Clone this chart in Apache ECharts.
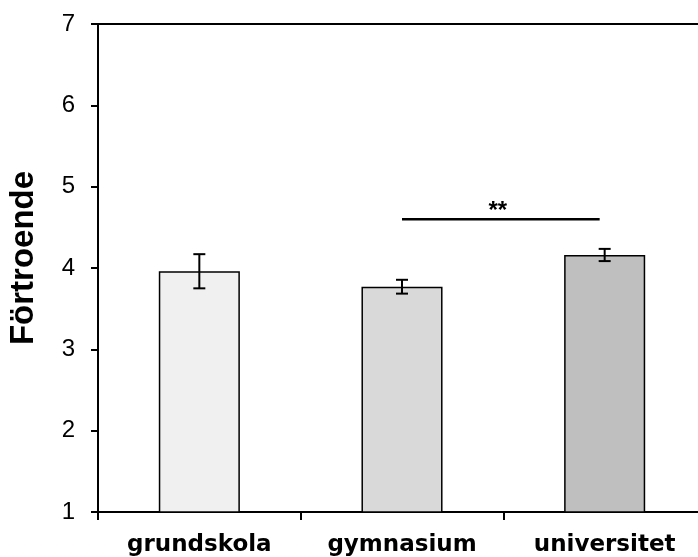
<!DOCTYPE html>
<html>
<head>
<meta charset="utf-8">
<script src="https://cdn.jsdelivr.net/npm/echarts@6/dist/echarts.min.js"></script>
<style>
html,body{margin:0;padding:0;background:#fff;}
#chart{width:698px;height:557px;}
</style>
</head>
<body>
<div id="chart"></div>
<script>
var categories = ['grundskola', 'gymnasium', 'universitet'];
var means = [3.96, 3.77, 4.16];
var errors = [0.21, 0.085, 0.075];
var barColors = ['#f0f0f0', '#d9d9d9', '#bfbfbf'];
var yTicks = [1, 7, 1]; // min, max, interval
var significance = [[1, 2, 4.6]]; // from category, to category, y level
var sigLabel = '**';
var yTitle = 'Förtroende';

var chart = echarts.init(document.getElementById('chart'), null, {renderer: 'canvas'});

var option = {
  backgroundColor: '#fff',
  animation: false,
  grid: {
    left: 98, top: 24, right: -8, bottom: 45,
    outerBoundsMode: 'none',
    containLabel: false,
    show: true, borderColor: '#000', borderWidth: 2, backgroundColor: 'transparent'
  },
  xAxis: {
    type: 'category',
    data: categories,
    boundaryGap: true,
    axisLine: {lineStyle: {color: '#000', width: 2}},
    axisTick: {show: true, interval: 0, length: 8, lineStyle: {color: '#000', width: 2}},
    axisLabel: {
      interval: 0, margin: 22, color: '#000',
      fontFamily: 'DejaVu Sans', fontWeight: 'bold', fontSize: 23
    },
    splitLine: {show: false}
  },
  yAxis: {
    type: 'value',
    min: yTicks[0], max: yTicks[1], interval: yTicks[2],
    axisLine: {show: true, lineStyle: {color: '#000', width: 2}},
    axisTick: {show: true, length: 7, lineStyle: {color: '#000', width: 2}},
    axisLabel: {margin: 23, color: '#000', fontFamily: 'Liberation Sans', fontSize: 24},
    splitLine: {show: false}
  },
  graphic: [{
    type: 'text',
    x: 24, y: 258,
    rotation: Math.PI / 2,
    style: {
      text: yTitle,
      fill: '#000',
      font: 'bold 33px "Liberation Sans", Arial, sans-serif',
      textAlign: 'center',
      textVerticalAlign: 'middle'
    }
  }],
  series: [
    {
      type: 'bar',
      barWidth: '40%',
      data: means.map(function (v, i) {
        return {value: v, itemStyle: {color: barColors[i], borderColor: '#000', borderWidth: 1.5}};
      }),
      z: 2
    },
    {
      type: 'custom',
      z: 3,
      data: means.map(function (v, i) { return [i, v, errors[i]]; }),
      encode: {x: 0, y: 1},
      renderItem: function (params, api) {
        var i = api.value(0), v = api.value(1), e = api.value(2);
        var top = api.coord([i, v + e]);
        var bot = api.coord([i, v - e]);
        var w = 6;
        var st = {stroke: '#000', lineWidth: 2};
        return {
          type: 'group',
          children: [
            {type: 'line', shape: {x1: top[0], y1: top[1], x2: bot[0], y2: bot[1]}, style: st},
            {type: 'line', shape: {x1: top[0] - w, y1: top[1], x2: top[0] + w, y2: top[1]}, style: st},
            {type: 'line', shape: {x1: bot[0] - w, y1: bot[1], x2: bot[0] + w, y2: bot[1]}, style: st}
          ]
        };
      }
    },
    {
      type: 'custom',
      z: 3,
      data: significance,
      encode: {x: [0, 1], y: 2},
      renderItem: function (params, api) {
        var p1 = api.coord([api.value(0), api.value(2)]);
        var p2 = api.coord([api.value(1), api.value(2)]);
        var x2 = p2[0] - 5;
        return {
          type: 'group',
          children: [
            {type: 'line', shape: {x1: p1[0], y1: p1[1], x2: x2, y2: p2[1]}, style: {stroke: '#000', lineWidth: 2.5}},
            {type: 'text', x: (p1[0] + x2) / 2 - 3, y: p1[1] - 8,
              style: {text: sigLabel, fill: '#000', font: 'bold 24px "Liberation Sans", Arial, sans-serif',
                textAlign: 'center', textVerticalAlign: 'middle'}}
          ]
        };
      }
    }
  ]
};
chart.setOption(option);
</script>
</body>
</html>
